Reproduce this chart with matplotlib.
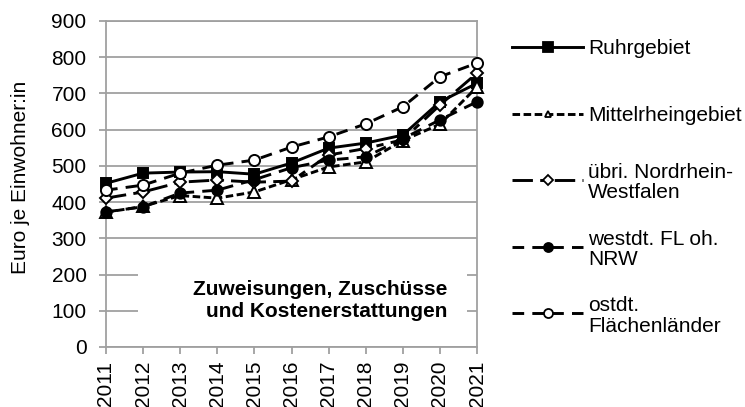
import matplotlib
matplotlib.use("Agg")
import matplotlib.pyplot as plt
from matplotlib.lines import Line2D
from matplotlib.patches import Rectangle

plt.rcParams['font.family'] = ['Liberation Sans', 'DejaVu Sans']

years = list(range(2011, 2022))

ruhr = [452, 480, 483, 484, 477, 508, 549, 563, 585, 677, 728]
mittelrhein = [372, 388, 418, 411, 428, 462, 497, 511, 570, 615, 718]
uebri_nrw = [411, 428, 455, 461, 455, 458, 530, 548, 572, 668, 756]
westdt = [373, 387, 425, 433, 462, 495, 516, 525, 575, 627, 677]
ostdt = [433, 447, 480, 502, 516, 552, 580, 616, 663, 746, 784]

labels = ["Ruhrgebiet", "Mittelrheingebiet", "übri. Nordrhein-\nWestfalen",
          "westdt. FL oh.\nNRW", "ostdt.\nFlächenländer"]
values = [ruhr, mittelrhein, uebri_nrw, westdt, ostdt]

# line / marker style per series
styles = [
    dict(linestyle='-', marker='s', mfc='k', ms=7.5),
    dict(linestyle=(0, (2.6, 1.2)), marker='^', mfc='white', ms=8),
    dict(linestyle=(0, (7, 2.5, 2.5, 2.5)), marker='D', mfc='white', ms=6),
    dict(linestyle=(0, (4, 2.8)), marker='o', mfc='k', ms=7.5),
    dict(linestyle=(0, (4, 2.8)), marker='o', mfc='white', ms=8),
]
legend_ms = [6.5, 5, 5, 6.5, 6.5]

grey = '#a0a0a0'
fs = 15
lw = 2.1

fig = plt.figure(figsize=(7.45, 4.07), dpi=100)
ax = fig.add_axes([106 / 745, 60 / 407, 371 / 745, 326 / 407])

for vals, st in zip(values, styles):
    ax.plot(years, vals, color='k', lw=lw, mec='k', mew=1.4, clip_on=False, zorder=3, **st)

ax.set_xlim(2011, 2021)
ax.set_ylim(0, 900)
ax.set_xticks(years)
ax.set_xticklabels([str(y) for y in years], rotation=90, fontsize=fs)
ax.set_yticks(range(0, 1000, 100))
ax.tick_params(axis='y', labelsize=fs, pad=9)
ax.tick_params(axis='x', pad=5)
ax.tick_params(color=grey, length=5, width=1.3, labelcolor='black')
ax.grid(axis='y', color=grey, lw=1.3)
ax.set_axisbelow(True)
for sp in ax.spines.values():
    sp.set_color(grey)
    sp.set_linewidth(1.3)

ax.set_ylabel("Euro je Einwohner:in", fontsize=fs)
ax.yaxis.set_label_coords(-0.205, 0.52)

# white box behind the annotation
ax.add_patch(Rectangle((0.086, 0.05), 0.887, 0.25, transform=ax.transAxes,
                       facecolor='white', edgecolor='none', zorder=1))
ax.text(0.919, 0.143, "Zuweisungen, Zuschüsse\nund Kostenerstattungen",
        transform=ax.transAxes, ha='right', va='center', multialignment='right',
        fontweight='bold', fontsize=fs, zorder=4)

# legend, handle aligned with first text line (like Excel)
x0, x1 = 512 / 745, 583 / 745
for i, (lab, st, lms) in enumerate(zip(labels, styles, legend_ms)):
    y = 1 - (47 + i * 66.5) / 407
    s = dict(st)
    s['ms'] = lms
    fig.add_artist(Line2D([x0, (x0 + x1) / 2, x1], [y, y, y], transform=fig.transFigure,
                          color='k', lw=lw, mec='k', mew=1.3, markevery=[1], **s))
    fig.text(588 / 745, y, lab, fontsize=fs, va='center_baseline', ha='left', linespacing=1.1)

fig.savefig("out.png", dpi=100)
